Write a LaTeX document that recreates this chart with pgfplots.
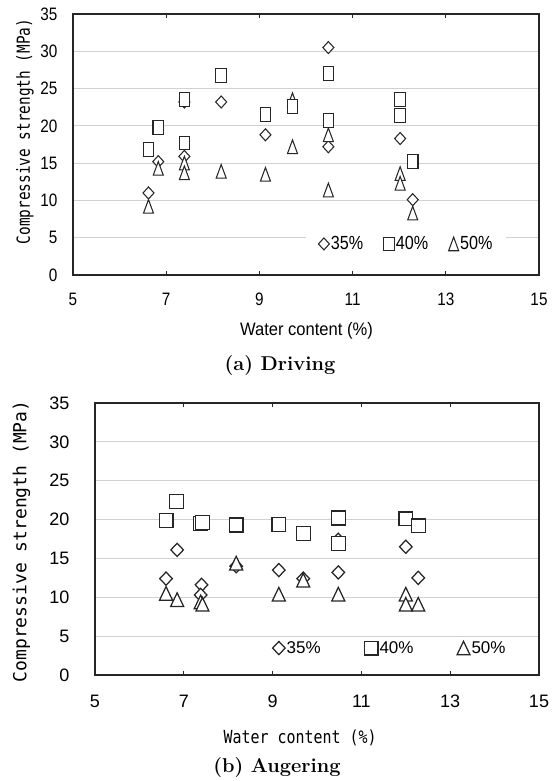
\documentclass[border=0pt]{standalone}
\usepackage{fontspec}
\usepackage{pgfplots}
\pgfplotsset{compat=1.18}
\newfontfamily\tickA[FakeStretch=0.85]{Liberation Sans}
\newfontfamily\tickB{Liberation Sans}
\newfontfamily\labA[FakeStretch=0.92]{Liberation Sans}
\newfontfamily\monoA[FakeStretch=0.8]{DejaVu Sans Mono}
\newfontfamily\monoB[FakeStretch=0.83]{DejaVu Sans Mono}
\newfontfamily\monoC{DejaVu Sans Mono}

\pgfdeclareplotmark{triA}{\pgfpathmoveto{\pgfqpoint{0pt}{6.8pt}}\pgfpathlineto{\pgfqpoint{5pt}{-6.8pt}}\pgfpathlineto{\pgfqpoint{-5pt}{-6.8pt}}\pgfpathclose\pgfusepathqfillstroke}
\pgfdeclareplotmark{diaA}{\pgfpathmoveto{\pgfqpoint{0pt}{6pt}}\pgfpathlineto{\pgfqpoint{5.5pt}{0pt}}\pgfpathlineto{\pgfqpoint{0pt}{-6pt}}\pgfpathlineto{\pgfqpoint{-5.5pt}{0pt}}\pgfpathclose\pgfusepathqfillstroke}
\pgfdeclareplotmark{recA}{\pgfpathrectanglecorners{\pgfqpoint{-5.3pt}{-6.9pt}}{\pgfqpoint{5.3pt}{6.9pt}}\pgfusepathqfillstroke}
\pgfdeclareplotmark{triB}{\pgfpathmoveto{\pgfqpoint{0pt}{6.8pt}}\pgfpathlineto{\pgfqpoint{6.5pt}{-6.8pt}}\pgfpathlineto{\pgfqpoint{-6.5pt}{-6.8pt}}\pgfpathclose\pgfusepathqfillstroke}
\pgfdeclareplotmark{diaB}{\pgfpathmoveto{\pgfqpoint{0pt}{6.6pt}}\pgfpathlineto{\pgfqpoint{6.3pt}{0pt}}\pgfpathlineto{\pgfqpoint{0pt}{-6.6pt}}\pgfpathlineto{\pgfqpoint{-6.3pt}{0pt}}\pgfpathclose\pgfusepathqfillstroke}
\pgfdeclareplotmark{recB}{\pgfpathrectanglecorners{\pgfqpoint{-6.9pt}{-6.9pt}}{\pgfqpoint{6.9pt}{6.9pt}}\pgfusepathqfillstroke}

\pgfplotsset{
  common/.style={
    scale only axis, anchor=south west,
    xmin=5, xmax=15, ymin=0, ymax=35,
    xtick={5,7,...,15}, ytick={0,5,...,35},
    ymajorgrids, major grid style={draw=black!18, line width=0.9pt},
    axis line style={line width=1.1pt, black!85},
    tick align=inside, major tick length=4pt,
    x tick style={black!85, line width=0.8pt},
    ytick style={draw=none},
    /pgf/number format/assume math mode=true,
    legend columns=3,
    legend image code/.code={\draw[##1] plot coordinates {(0pt,0pt)};},
    every axis y label/.style={rotate=90, anchor=center},
    every axis x label/.style={anchor=center},
  },
  mA/.style={only marks, mark options={fill=white, draw=black!85, line width=1.05pt}},
  mB/.style={only marks, mark options={fill=white, draw=black!85, line width=1.25pt}},
}

\begin{document}
\begin{tikzpicture}[x=1pt,y=1pt]
\path[use as bounding box] (0,0) rectangle (558,781);

% ---------------- (a) Driving ----------------
\begin{axis}[common,
  at={(73pt,506pt)}, width=466pt, height=261pt,
  xticklabel style={font=\tickA\fontsize{18}{18}\selectfont, yshift=-14.5pt},
  yticklabel style={font=\tickA\fontsize{18}{18}\selectfont, xshift=-12pt},
  xlabel={\labA\fontsize{18}{18}\selectfont Water content (\%)},
  x label style={at={(axis description cs:0.501,-0.2146)}},
  ylabel={\monoA\fontsize{18}{18}\selectfont Compressive strength (MPa)},
  y label style={at={(axis description cs:-0.103,0.55)}},
  legend style={at={(axis description cs:0.715,0.119)}, anchor=center,
    draw=none, fill=white, inner xsep=12pt, inner ysep=3pt,
    font=\tickA\fontsize{19}{19}\selectfont,
    nodes={inner sep=1.5pt},
    /tikz/every even column/.append style={column sep=19pt}},
]
\addplot[mA, mark=diaA, forget plot] coordinates {
 (6.62,11.0) (6.83,15.2) (7.39,15.9) (7.39,23.2) (8.18,23.2) (9.13,18.8)
 (10.48,30.5) (10.48,17.2) (12.02,18.3) (12.29,10.1)};
\addplot[mA, mark=triA, forget plot] coordinates {
 (6.62,9.2) (6.83,14.3) (7.39,15.0) (7.39,13.7) (8.18,13.9) (9.13,13.5)
 (9.71,23.5) (9.71,17.2) (10.48,18.8) (10.48,11.4) (12.02,13.6) (12.02,12.3) (12.29,8.3)};
\addplot[mA, mark=recA, forget plot] coordinates {
 (6.62,16.8) (6.83,19.8) (7.39,23.5) (7.39,17.7) (8.18,26.8) (9.13,21.5)
 (9.71,22.6) (10.48,27.0) (10.48,20.7) (12.02,23.5) (12.02,21.4) (12.29,15.2)};
\addlegendimage{mA, mark=diaA}\addlegendentry{35\%}
\addlegendimage{mA, mark=recA}\addlegendentry{40\%}
\addlegendimage{mA, mark=triA}\addlegendentry{50\%}
\end{axis}

% ---------------- (b) Augering ----------------
\begin{axis}[common,
  at={(95pt,106pt)}, width=444pt, height=272pt,
  xticklabel style={font=\tickB\fontsize{18}{18}\selectfont, yshift=-16.5pt},
  yticklabel style={font=\tickB\fontsize{18}{18}\selectfont, xshift=-22pt},
  xlabel={\monoB\fontsize{18}{18}\selectfont Water content (\%)},
  x label style={at={(axis description cs:0.462,-0.2316)}},
  ylabel={\monoC\fontsize{18}{18}\selectfont Compressive strength (MPa)},
  y label style={at={(axis description cs:-0.1655,0.491)}},
  legend style={at={(axis description cs:0.664,0.099)}, anchor=center,
    draw=none, fill=white, inner xsep=22pt, inner ysep=3pt,
    font=\tickB\fontsize{17}{17}\selectfont,
    nodes={inner sep=1.5pt},
    /tikz/every even column/.append style={column sep=42pt}},
]
\addplot[mB, mark=diaB, forget plot] coordinates {
 (6.6,12.4) (6.85,16.1) (7.4,11.6) (7.38,10.3) (8.18,14.0) (9.14,13.5)
 (9.69,12.4) (10.48,13.2) (10.48,17.4) (12.0,16.5) (12.28,12.5)};
\addplot[mB, mark=triB, forget plot] coordinates {
 (6.6,10.5) (6.85,9.7) (7.38,9.4) (7.42,9.1) (8.18,14.4) (9.14,10.4)
 (9.69,12.2) (10.48,10.4) (12.0,10.4) (12.0,9.1) (12.28,9.1)};
\addplot[mB, mark=recB, forget plot] coordinates {
 (6.6,19.9) (6.84,22.3) (7.38,19.5) (7.42,19.6) (8.18,19.3) (9.14,19.4)
 (9.69,18.2) (10.48,20.2) (10.48,16.9) (12.0,20.1) (12.28,19.2)};
\addlegendimage{mB, mark=diaB}\addlegendentry{35\%}
\addlegendimage{mB, mark=recB}\addlegendentry{40\%}
\addlegendimage{mB, mark=triB}\addlegendentry{50\%}
\end{axis}

\node[font=\fontsize{20}{22}\selectfont\bfseries] at (280,415) {(a) Driving};
\node[font=\fontsize{20}{22}\selectfont\bfseries] at (277,13) {(b) Augering};
\end{tikzpicture}
\end{document}
